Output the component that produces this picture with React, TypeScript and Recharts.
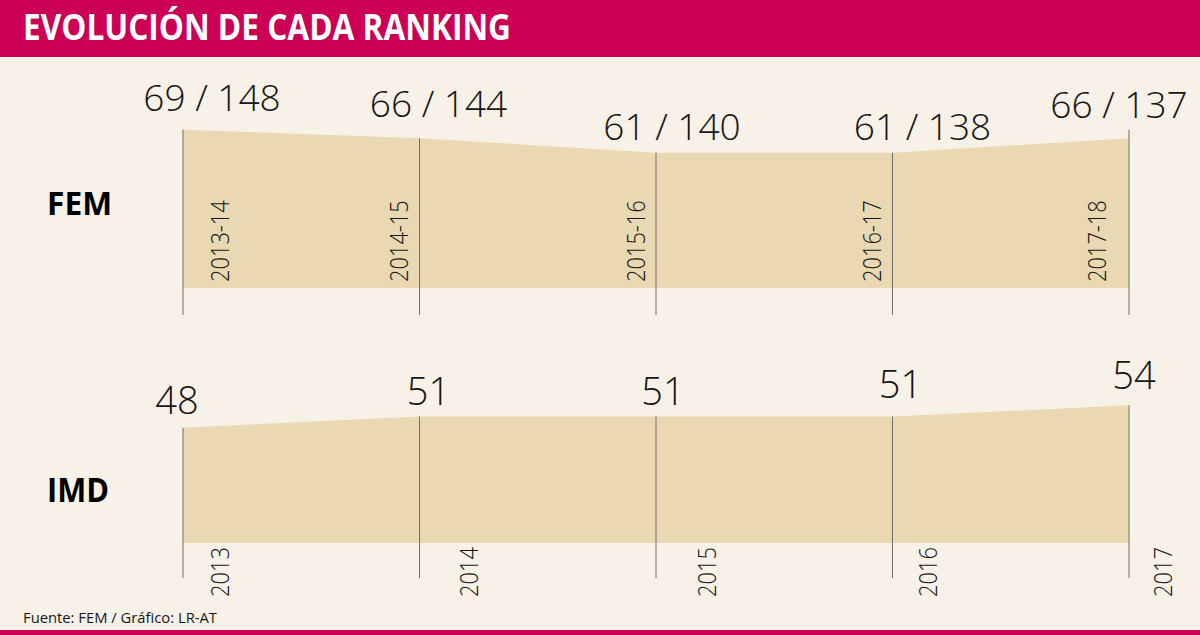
import React from 'react';
import { AreaChart, Area, XAxis, YAxis, ReferenceLine, LabelList } from 'recharts';

// ---------- data ----------
const femPeriods = ['2013-14', '2014-15', '2015-16', '2016-17', '2017-18'];
const femRank = [69, 66, 61, 61, 66];
const femTotal = [148, 144, 140, 138, 137];
const femGuideTop = [69, 66, 61, 61, 69];

const imdYears = ['2013', '2014', '2015', '2016', '2017'];
const imdRank = [48, 51, 51, 51, 54];

// ---------- style / layout constants ----------
const W = 1200;
const H = 635;
const CRIMSON = '#CC0055';
const BG = '#F8F1E7';
const FILL = '#E9D8B1';
const GUIDE = '#6E6E6E';
const TEXT = '#151515';
const FONT = '"Open Sans", "DejaVu Sans", sans-serif';

const femDomain: [number, number] = [14, 80];
const femGuideBottom = 4.6;
const imdDomain: [number, number] = [17, 60];
const imdGuideBottom = 7.6;

const femLabelDx = [29, 19, 16, 30, -10];
const femLabelDy = [-19, -21, -13, -13, -20];
const imdLabelDx = [-6, 9, 7, 8, 5];
const imdLabelDy = [-14, -11, -11, -18, -16];

const femYearDx = [37, -21, -20, -21, -32];
const imdYearDx = [37, 49, 51, 35, 34];

const femData = femPeriods.map((p, i) => ({ period: p, rank: femRank[i], total: femTotal[i] }));
const imdData = imdYears.map((p, i) => ({ period: p, rank: imdRank[i] }));

const makeYearTick = (dxs: number[], startDy: number) => (props: any) => {
  const { x, y, payload, index } = props;
  const dx = dxs[index] ?? 0;
  return (
    <text
      transform={`translate(${x + dx},${y + startDy}) rotate(-90) scale(0.84,1)`}
      textAnchor="start"
      dy="0.36em"
      fontFamily={FONT}
      fontWeight={300}
      fontSize={26}
      fill={TEXT}
    >
      {payload.value}
    </text>
  );
};

const FemYearTick = makeYearTick(femYearDx, -6);
const ImdYearTick = makeYearTick(imdYearDx, 54);

const FemValueLabel = (props: any) => {
  const { x, y, index } = props;
  return (
    <text
      x={x + femLabelDx[index]}
      y={y + femLabelDy[index]}
      textAnchor="middle"
      fontFamily={FONT}
      fontWeight={300}
      fontSize={37}
      fill={TEXT}
    >
      {`${femRank[index]} / ${femTotal[index]}`}
    </text>
  );
};

const ImdValueLabel = (props: any) => {
  const { x, y, index } = props;
  return (
    <text
      x={x + imdLabelDx[index]}
      y={y + imdLabelDy[index]}
      textAnchor="middle"
      fontFamily={FONT}
      fontWeight={300}
      fontSize={38}
      fill={TEXT}
    >
      {`${imdRank[index]}`}
    </text>
  );
};

export default function App() {
  return (
    <div style={{ position: 'absolute', left: 0, top: 0, width: W, height: H, background: BG, overflow: 'hidden' }}>
      <svg width={W} height={H} style={{ position: 'absolute', left: 0, top: 0 }}>
        <rect x={0} y={0} width={W} height={57} fill={CRIMSON} />
        <text
          x={23}
          y={40}
          fontFamily={FONT}
          fontWeight={700}
          fontSize={35}
          fill="#FFFFFF"
          textLength={488}
          lengthAdjust="spacingAndGlyphs"
        >
          EVOLUCIÓN DE CADA RANKING
        </text>
        <text x={47} y={215} fontFamily={FONT} fontWeight={700} fontSize={32} fill="#000" textLength={65} lengthAdjust="spacingAndGlyphs">
          FEM
        </text>
        <text x={47} y={502} fontFamily={FONT} fontWeight={700} fontSize={34} fill="#000" textLength={62} lengthAdjust="spacingAndGlyphs">
          IMD
        </text>
        <text x={23} y={623} fontFamily={FONT} fontWeight={400} fontSize={15} fill={TEXT} textLength={194} lengthAdjust="spacingAndGlyphs">
          Fuente: FEM / Gráfico: LR-AT
        </text>
        <rect x={0} y={630} width={W} height={5} fill={CRIMSON} />
      </svg>

      <div style={{ position: 'absolute', left: 0, top: 0 }}>
        <AreaChart width={W} height={340} data={femData} margin={{ top: 98, right: 71, bottom: 22, left: 183 }}>
          <XAxis
            dataKey="period"
            height={30}
            axisLine={false}
            tickLine={false}
            tickSize={0}
            tickMargin={0}
            interval={0}
            tick={FemYearTick}
          />
          <YAxis hide domain={femDomain} />
          <Area
            type="linear"
            dataKey="rank"
            baseValue={femDomain[0]}
            fill={FILL}
            fillOpacity={1}
            stroke="none"
            dot={false}
            activeDot={false}
            isAnimationActive={false}
          >
            <LabelList dataKey="rank" content={FemValueLabel} />
          </Area>
          {femPeriods.map((p, i) => (
            <ReferenceLine
              key={p}
              segment={[{ x: p, y: femGuideTop[i] }, { x: p, y: femGuideBottom }]}
              stroke={GUIDE}
              strokeWidth={1}
              ifOverflow="visible"
            />
          ))}
        </AreaChart>
      </div>

      <div style={{ position: 'absolute', left: 0, top: 340 }}>
        <AreaChart width={W} height={295} data={imdData} margin={{ top: 43, right: 71, bottom: 62, left: 183 }}>
          <XAxis
            dataKey="period"
            height={30}
            axisLine={false}
            tickLine={false}
            tickSize={0}
            tickMargin={0}
            interval={0}
            tick={ImdYearTick}
          />
          <YAxis hide domain={imdDomain} />
          <Area
            type="linear"
            dataKey="rank"
            baseValue={imdDomain[0]}
            fill={FILL}
            fillOpacity={1}
            stroke="none"
            dot={false}
            activeDot={false}
            isAnimationActive={false}
          >
            <LabelList dataKey="rank" content={ImdValueLabel} />
          </Area>
          {imdYears.map((p, i) => (
            <ReferenceLine
              key={p}
              segment={[{ x: p, y: imdRank[i] }, { x: p, y: imdGuideBottom }]}
              stroke={GUIDE}
              strokeWidth={1}
              ifOverflow="visible"
            />
          ))}
        </AreaChart>
      </div>
    </div>
  );
}
